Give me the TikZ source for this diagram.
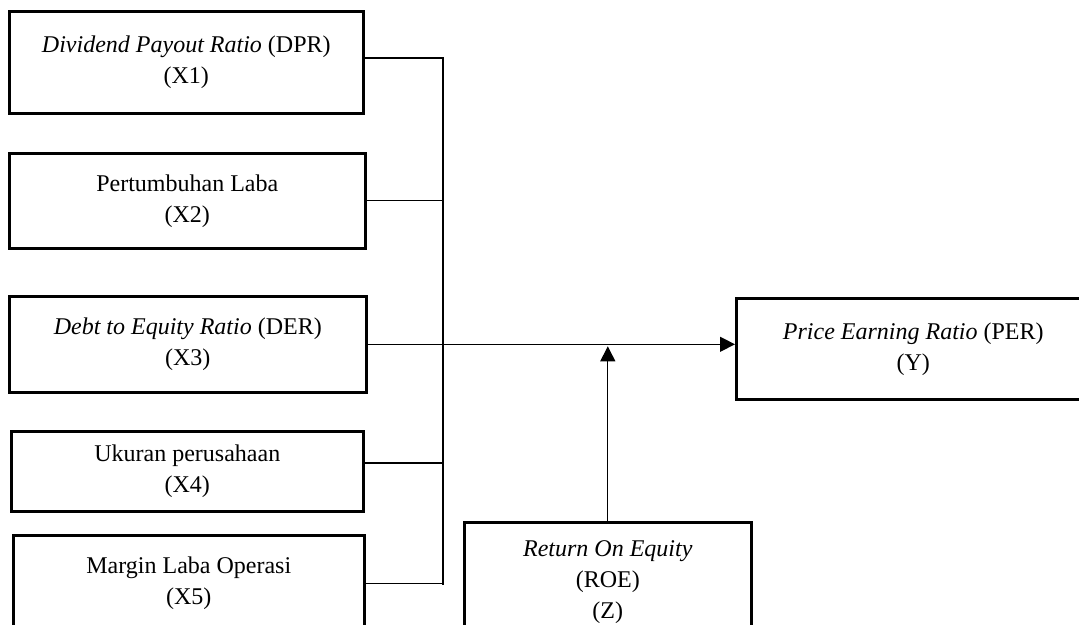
\documentclass[tikz,border=0pt]{standalone}
\usepackage{fontspec}
\setmainfont{Liberation Serif}
\usetikzlibrary{arrows.meta}

\begin{document}
\begin{tikzpicture}[x=1pt,y=-1pt,
    main node/.style={draw,line width=2.6pt,anchor=north west,align=center,inner sep=0pt,font=\fontsize{24}{31}\selectfont},
    link/.style={line width=1.2pt},
    arrow/.style={line width=1.2pt,-{Triangle[length=15pt,width=15pt]}}]
                        \useasboundingbox (0,0) rectangle (1079,624);
                        \clip (0,0) rectangle (1079,624);
                        \node[main node,minimum width=354pt,minimum height=102pt] (1) at (8,10) {\textit{Dividend Payout Ratio} (DPR)\\(X1)};
                        \node[main node,minimum width=356pt,minimum height=95pt] (2) at (8,152) {Pertumbuhan Laba\\(X2)};
                        \node[main node,minimum width=357pt,minimum height=96pt] (3) at (8,295) {\textit{Debt to Equity Ratio} (DER)\\(X3)};
                        \node[main node,minimum width=352pt,minimum height=80pt] (4) at (10,430) {Ukuran perusahaan\\(X4)};
                        \node[main node,minimum width=351pt,minimum height=96pt] (5) at (12,534) {Margin Laba Operasi\\(X5)};
                        \node[main node,minimum width=354pt,minimum height=101pt] (6) at (735,297) {\textit{Price Earning Ratio} (PER)\\(Y)};
                        \node[main node,minimum width=287pt,minimum height=120pt] (7) at (463,521) {\textit{Return On Equity}\\(ROE)\\(Z)};

                        \coordinate (bt) at (443,58);
                        \coordinate (bb) at (443,585);

                        %\draw[link] (1) -- (bt);
                        \draw[link] (1.east |- bt) -- (bt) -- (bb);
                        \draw[link] (2.east) -- (2.east -| bt);
                        \draw[link] (4.east |- 0,463) -- (bt |- 0,463);
                        \draw[link] (5.east) -- (5.east -| bb);
                        \draw[arrow] (3.east) -- (3.east -| 6.west);
                        \draw[arrow] (7.north) -- ([yshift=-2pt]7.north |- 3.east);
        \end{tikzpicture}
\end{document}
